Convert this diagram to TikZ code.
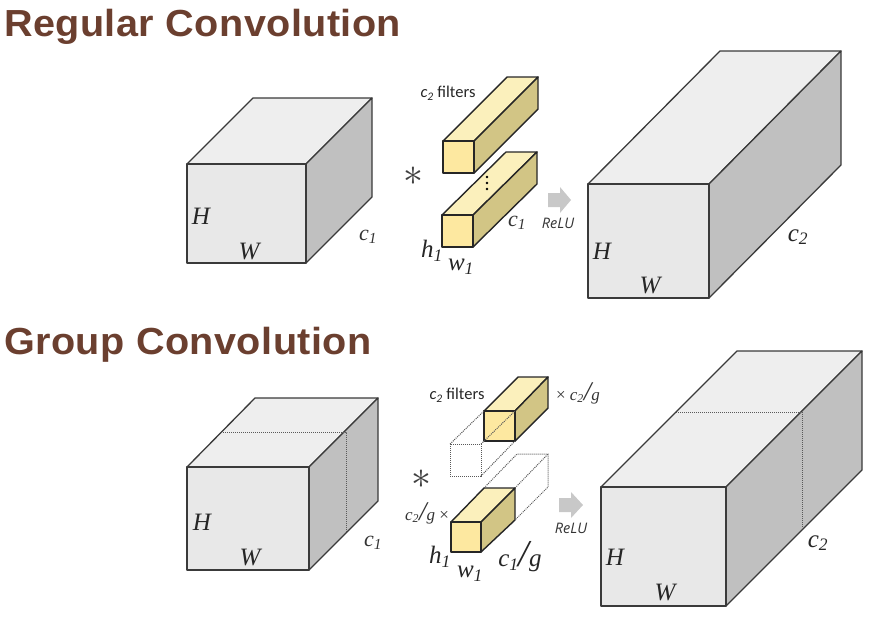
\documentclass[tikz,border=0pt]{standalone}
\usepackage{fontspec}
\usepackage{xcolor}
\setmainfont{Liberation Serif}
\newfontfamily\titlefont[FakeStretch=1.05,LetterSpace=1.2]{Liberation Sans}
\newfontfamily\notefont{Carlito}
\newfontfamily\relufont{Open Sans}
\definecolor{titlebrown}{HTML}{6B3F2F}
\definecolor{frontgray}{HTML}{E8E8E8}
\definecolor{topgray}{HTML}{EEEEEE}
\definecolor{sidegray}{HTML}{C0C0C0}
\definecolor{frontyellow}{HTML}{FDE8A0}
\definecolor{topyellow}{HTML}{FBF0BC}
\definecolor{sideyellow}{HTML}{D2C585}
\definecolor{edgegray}{HTML}{3A3A3A}
\definecolor{arrowgray}{HTML}{C8C8C8}
\tikzset{
  boxfront/.style={fill=frontgray,draw=edgegray,line width=1.3pt,line join=round},
  boxtop/.style={fill=topgray,draw=edgegray,line width=1.3pt,line join=round},
  boxside/.style={fill=sidegray,draw=edgegray,line width=1.3pt,line join=round},
  filterfront/.style={fill=frontyellow,draw=black!85,line width=1.4pt,line join=round},
  filtertop/.style={fill=topyellow,draw=black!85,line width=1.4pt,line join=round},
  filterside/.style={fill=sideyellow,draw=black!85,line width=1.4pt,line join=round},
  dottededge/.style={draw=black!65,line width=1pt,dash pattern=on 1pt off 1pt},
  relublock/.style={fill=arrowgray},
  titlelabel/.style={anchor=base west,inner sep=0pt,text=titlebrown,font=\titlefont\bfseries\fontsize{37.7}{38}\selectfont},
  dimlabel/.style={inner sep=0pt,text=black!85,font=\itshape\fontsize{25}{25}\selectfont},
  smalllabel/.style={inner sep=0pt,text=black!80,font=\itshape\fontsize{22}{22}\selectfont},
  filternote/.style={inner sep=0pt,text=black!85,font=\notefont\fontsize{16.5}{16}\selectfont},
  relulabel/.style={inner sep=0pt,text=black!80,font=\relufont\itshape\fontsize{14.5}{14}\selectfont},
  starlabel/.style={inner sep=0pt,text=black!75,scale=1.6,font=\fontsize{25}{25}\selectfont},
}
\begin{document}
\begin{tikzpicture}[x=1pt,y=-1pt]
\useasboundingbox (0,0) rectangle (894,619);
% ---- titles
\node[titlelabel] (regulartitle) at (4,36) {Regular Convolution};
\node[titlelabel] (grouptitle) at (4,354) {Group Convolution};
% ---- regular: input block
\draw[boxtop] (187,164) -- (253,98) -- (372,98) -- (306,164) -- cycle;
\draw[boxside] (306,164) -- (372,98) -- (372,197) -- (306,263) -- cycle;
\draw[boxfront] (187,164) rectangle (306,263);
\node[dimlabel] (regularH) at (201,216) {H};
\node[dimlabel] (regularW) at (249,251) {W};
\node[smalllabel] (regularcone) at (368,237) {c\textsubscript{1}};
% ---- regular: filters
\draw[filtertop] (443,141) -- (507,77) -- (538,77) -- (474,141) -- cycle;
\draw[filterside] (474,141) -- (538,77) -- (538,109) -- (474,173) -- cycle;
\draw[filterfront] (443,141) rectangle (474,173);
\draw[filtertop] (442,215) -- (506,152) -- (537,152) -- (473,215) -- cycle;
\draw[filterside] (473,215) -- (537,152) -- (537,184) -- (473,247) -- cycle;
\draw[filterfront] (442,215) rectangle (473,247);
\foreach \doty in {177,183,189} \fill[black] (487,\doty) circle (1.4pt);
\node[filternote] (regularnote) at (448,93) {\textit{c}\textsubscript{\textit{2}} filters};
\node[starlabel] (regularstar) at (413,176) {$\ast$};
\node[dimlabel] (regularh) at (432,251) {h\textsubscript{1}};
\node[dimlabel] (regularw) at (461,267) {w\textsubscript{1}};
\node[smalllabel] (regularctwo) at (517,223) {c\textsubscript{1}};
% ---- regular: relu
\fill[relublock] (548,193) -- (560,193) -- (560,187) -- (571,200) -- (560,213) -- (560,207) -- (548,207) -- cycle;
\node[relulabel] (regularrelu) at (558,223) {ReLU};
% ---- regular: output block
\draw[boxtop] (588,184) -- (720,51) -- (841,51) -- (709,184) -- cycle;
\draw[boxside] (709,184) -- (841,51) -- (841,165) -- (709,298) -- cycle;
\draw[boxfront] (588,184) rectangle (709,298);
\node[dimlabel] (outH) at (602,251) {H};
\node[dimlabel] (outW) at (650,285) {W};
\node[dimlabel] (outc) at (798,237) {c\textsubscript{2}};
% ---- group: input block
\draw[boxtop] (187,467) -- (255,398) -- (378,398) -- (309,467) -- cycle;
\draw[boxside] (309,467) -- (378,398) -- (378,501) -- (309,570) -- cycle;
\draw[boxfront] (187,467) rectangle (309,570);
\draw[dottededge] (223,432) -- (346,432) -- (346,532);
\node[dimlabel] (groupH) at (202,522) {H};
\node[dimlabel] (groupW) at (250,557) {W};
\node[smalllabel] (groupcone) at (373,543) {c\textsubscript{1}};
% ---- group: filters
\draw[filtertop] (484,411) -- (518,377) -- (548,377) -- (515,411) -- cycle;
\draw[filterside] (515,411) -- (548,377) -- (548,408) -- (515,441) -- cycle;
\draw[filterfront] (484,411) rectangle (515,441);
\draw[dottededge] (450,444) rectangle (481,476);
\draw[dottededge] (450,444) -- (484,411);
\draw[dottededge] (481,444) -- (515,411);
\draw[dottededge] (481,476) -- (515,441);
\draw[filtertop] (451,522) -- (484,488) -- (515,488) -- (481,522) -- cycle;
\draw[filterside] (481,522) -- (515,488) -- (515,520) -- (481,552) -- cycle;
\draw[filterfront] (451,522) rectangle (481,552);
\draw[dottededge] (484,488) -- (517,454) -- (548,454) -- (548,487) -- (515,520);
\draw[dottededge] (515,488) -- (548,454);
\node[filternote] (groupnote) at (457,395) {\textit{c}\textsubscript{\textit{2}} filters};
\node[smalllabel,font=\itshape\fontsize{17}{17}\selectfont] (groupcount) at (578,393) {\textup{×} c\textsubscript{2}{\fontsize{27}{27}\selectfont/}g};
\node[smalllabel,font=\itshape\fontsize{17}{17}\selectfont] (groupcountb) at (427,513) {c\textsubscript{2}{\fontsize{27}{27}\selectfont/}g \textup{×}};
\node[starlabel] (groupstar) at (421,479) {$\ast$};
\node[dimlabel] (grouph) at (440,557) {h\textsubscript{1}};
\node[dimlabel] (groupw) at (470,574) {w\textsubscript{1}};
\node[dimlabel] (groupc) at (520,557) {c\textsubscript{1}{\fontsize{38}{38}\selectfont/}g};
% ---- group: relu
\fill[relublock] (559,498) -- (571,498) -- (571,492) -- (583,505) -- (571,518) -- (571,512) -- (559,512) -- cycle;
\node[relulabel] (grouprelu) at (571,528) {ReLU};
% ---- group: output block
\draw[boxtop] (601,487) -- (737,351) -- (862,351) -- (726,487) -- cycle;
\draw[boxside] (726,487) -- (862,351) -- (862,470) -- (726,606) -- cycle;
\draw[boxfront] (601,487) rectangle (726,606);
\draw[dottededge] (676,412) -- (802,412) -- (802,527);
\node[dimlabel] (groupoutH) at (615,557) {H};
\node[dimlabel] (groupoutW) at (665,592) {W};
\node[dimlabel] (groupoutc) at (818,543) {c\textsubscript{2}};
\end{tikzpicture}
\end{document}
